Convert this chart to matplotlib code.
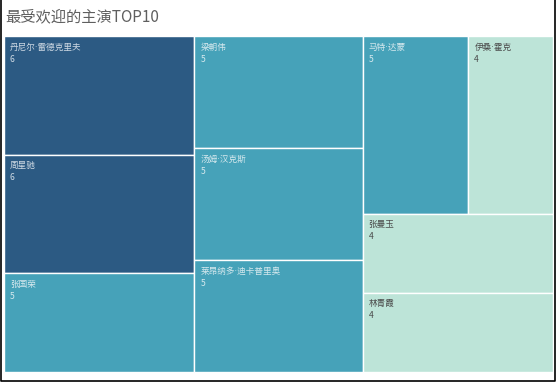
import matplotlib.pyplot as plt
from matplotlib.patches import Rectangle

plt.rcParams["font.family"] = ["Noto Sans CJK SC", "DejaVu Sans"]

# data
names = ["丹尼尔·雷德克里夫", "周星驰", "张国荣", "梁朝伟", "汤姆·汉克斯",
         "莱昂纳多·迪卡普里奥", "马特·达蒙", "伊桑·霍克", "张曼玉", "林青霞"]
counts = [6, 6, 5, 5, 5, 5, 5, 4, 4, 4]

# treemap grouping (indexes into names): columns, each a list of rows, each row a list of cells
columns = [
    [[0], [1], [2]],
    [[3], [4], [5]],
    [[6, 7], [8], [9]],
]

COLORS = {6: "#2c5a83", 5: "#46a2b9", 4: "#bde4d8"}
TEXT_COLORS = {6: "#d0dbe5", 5: "#d6e9ee", 4: "#4a4a4a"}

W, H = 556, 382
fig = plt.figure(figsize=(W / 100, H / 100), dpi=100)
ax = fig.add_axes([0, 0, 1, 1])
ax.set_xlim(0, W)
ax.set_ylim(H, 0)
ax.axis("off")

x0, y0, x1, y1 = 4, 36, 553, 372
total = sum(counts)
label_font = ["DejaVu Sans", "Noto Sans CJK SC"]  # narrow middle dot from DejaVu

x = x0
for col in columns:
    col_sum = sum(counts[i] for row in col for i in row)
    cw = (x1 - x0) * col_sum / total
    y = y0
    for row in col:
        row_sum = sum(counts[i] for i in row)
        rh = (y1 - y0) * row_sum / col_sum
        cx = x
        for i in row:
            w = cw * counts[i] / row_sum
            v = counts[i]
            ax.add_patch(Rectangle((cx, y), w, rh, facecolor=COLORS[v],
                                   edgecolor="white", linewidth=1.0))
            ax.text(cx + 6, y + 11, names[i], fontsize=6.2, color=TEXT_COLORS[v],
                    va="center", ha="left", family=label_font)
            ax.text(cx + 6, y + 23, str(v), fontsize=6.2, color=TEXT_COLORS[v],
                    va="center", ha="left")
            cx += w
        y += rh
    x += cw

ax.text(5, 17, "最受欢迎的主演TOP10", fontsize=11, color="#5f5f5f",
        va="center", ha="left")

# outer frame
ax.plot([0.5, 0.5, W - 1.5, W - 1.5], [0, H - 1.5, H - 1.5, 0],
        color="black", linewidth=1.2)

fig.savefig("out.png", dpi=100)
